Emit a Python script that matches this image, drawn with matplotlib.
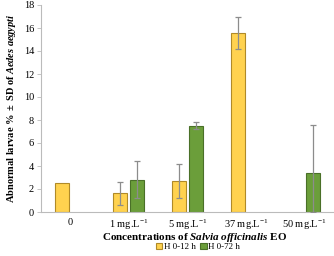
import matplotlib
matplotlib.use("Agg")
import matplotlib.pyplot as plt
import numpy as np
from matplotlib.patches import Patch

plt.rcParams['font.family'] = ['Liberation Serif', 'DejaVu Serif']
plt.rcParams['mathtext.fontset'] = 'custom'
plt.rcParams['mathtext.rm'] = 'Liberation Serif'
plt.rcParams['mathtext.it'] = 'Liberation Serif:italic'
plt.rcParams['mathtext.bf'] = 'Liberation Serif:bold'
plt.rcParams['mathtext.bfit'] = 'Liberation Serif:italic:bold'

categories = ["0", r"1 mg.L$^{-1}$", r"5 mg.L$^{-1}$", r"37 mg.L$^{-1}$", r"50 mg.L$^{-1}$"]
h12 = [2.5, 1.65, 2.7, 15.6, 0.0]
h12_sd = [0.0, 1.0, 1.45, 1.4, 0.0]
h72 = [0.0, 2.8, 7.5, 0.0, 3.4]
h72_sd = [0.0, 1.6, 0.3, 0.0, 4.15]
series_labels = ["H 0-12 h", "H 0-72 h"]
yticks = [0, 2, 4, 6, 8, 10, 12, 14, 16, 18]

yellow = "#FFD24F"
yellow_edge = "#B08A28"
green = "#6B9E3A"
green_edge = "#4A7028"
err_col = "#8C8C8C"

fig = plt.figure(figsize=(3.34, 2.56), dpi=100)
ax = fig.add_axes([41/334, 44/256, 293/334, 207/256])

x = np.arange(len(categories))
w = 0.24
off = 0.145

def draw(vals, sds, offset, color, edge):
    for xi, v, s in zip(x, vals, sds):
        if v <= 0:
            continue
        ax.bar(xi + offset, v, width=w, color=color, edgecolor=edge, linewidth=0.8, zorder=2)
        if s > 0:
            lo = min(s, v)
            ax.errorbar(xi + offset, v, yerr=[[lo], [s]], fmt='none', ecolor=err_col,
                        elinewidth=0.9, capsize=2, capthick=0.9, zorder=3)

draw(h12, h12_sd, -off, yellow, yellow_edge)
draw(h72, h72_sd, off, green, green_edge)

ax.set_xlim(-0.5, 4.5)
ax.set_ylim(0, 18)
ax.set_yticks(yticks)
ax.set_xticks(x)
ax.set_xticklabels(categories, fontsize=7.5)
ax.tick_params(axis='y', labelsize=7.5, length=3, width=0.6, color='#BBBBBB', pad=2)
ax.tick_params(axis='x', length=0, pad=4)
for s in ['top', 'right']:
    ax.spines[s].set_visible(False)
for s in ['left', 'bottom']:
    ax.spines[s].set_color('#BBBBBB')
    ax.spines[s].set_linewidth(0.8)

ax.set_ylabel(r"$\mathbf{Abnormal\ larvae\ \%\ \pm\ SD\ of\ }\mathbfit{Aedes\ aegypti}$",
              fontsize=7.5, labelpad=4)
fig.text(195/334, 1 - 237/256,
         r"$\mathbf{Concentrations\ of\ }\mathbfit{Salvia\ officinalis}\mathbf{\ EO}$",
         ha='center', va='center', fontsize=8)

handles = [Patch(facecolor=yellow, edgecolor=yellow_edge, linewidth=0.8),
           Patch(facecolor=green, edgecolor=green_edge, linewidth=0.8)]
fig.legend(handles, series_labels, loc='center', bbox_to_anchor=(198/334, 1 - 247/256),
           ncol=2, frameon=False, fontsize=6.5, handlelength=0.7, handleheight=0.7,
           handletextpad=0.2, columnspacing=0.5, borderpad=0)

fig.savefig("out.png", dpi=100)
